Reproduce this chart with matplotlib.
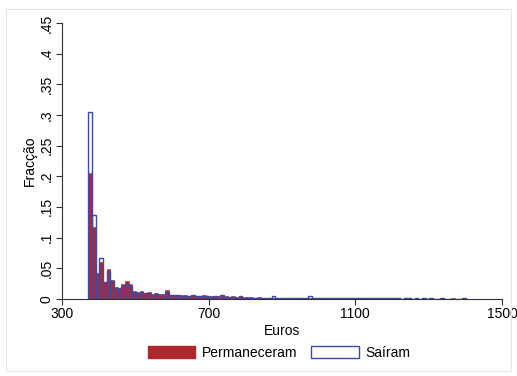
import matplotlib
matplotlib.use("Agg")
import matplotlib.pyplot as plt
from matplotlib.patches import Rectangle

plt.rcParams['font.family'] = ['Liberation Sans', 'DejaVu Sans']

bin_start = 372
bin_width = 10

permaneceram = [
    0.205, 0.118, 0.043, 0.061, 0.028, 0.049, 0.031, 0.019, 0.018, 0.025,
    0.029, 0.024, 0.013, 0.012, 0.013, 0.010, 0.011, 0.008, 0.009, 0.008,
    0.008, 0.015, 0.007, 0.007, 0.006, 0.007, 0.006, 0.005, 0.006, 0.005,
    0.005, 0.006, 0.004, 0.004, 0.005, 0.004, 0.007, 0.004, 0.003, 0.004,
    0.003, 0.005, 0.003, 0.003, 0.003, 0.002, 0.003, 0.002, 0.002, 0.002,
    0.002, 0.002, 0.001, 0.002, 0.002, 0.001, 0.002, 0.001, 0.001, 0.001,
    0.002, 0.001, 0.001, 0.001, 0.001, 0.001, 0.001, 0.001, 0.001, 0.001,
    0.001, 0.001, 0.001, 0.001, 0.001, 0.002, 0.001, 0.001, 0.001, 0.001,
    0.001, 0.001, 0.001, 0.001, 0.001, 0.0, 0.001, 0.001, 0.0, 0.001,
    0.0, 0.001, 0.0, 0.001, 0.0, 0.0, 0.001, 0.0, 0.0, 0.001,
    0.0, 0.0, 0.001,
]
sairam = [
    0.305, 0.137, 0.040, 0.067, 0.027, 0.045, 0.029, 0.018, 0.016, 0.021,
    0.025, 0.021, 0.011, 0.010, 0.011, 0.009, 0.010, 0.007, 0.008, 0.007,
    0.007, 0.012, 0.006, 0.006, 0.006, 0.005, 0.005, 0.005, 0.006, 0.004,
    0.004, 0.005, 0.004, 0.003, 0.004, 0.003, 0.006, 0.003, 0.003, 0.003,
    0.002, 0.004, 0.002, 0.002, 0.002, 0.002, 0.002, 0.002, 0.002, 0.002,
    0.004, 0.001, 0.001, 0.001, 0.001, 0.001, 0.001, 0.001, 0.001, 0.001,
    0.004, 0.001, 0.001, 0.001, 0.001, 0.001, 0.001, 0.001, 0.001, 0.001,
    0.001, 0.001, 0.001, 0.001, 0.001, 0.001, 0.001, 0.001, 0.001, 0.001,
    0.002, 0.001, 0.001, 0.001, 0.001, 0.0, 0.001, 0.001, 0.0, 0.001,
    0.0, 0.001, 0.0, 0.001, 0.0, 0.0, 0.001, 0.0, 0.0, 0.0,
    0.0, 0.0, 0.001,
]

x_ticks = [300, 700, 1100, 1500]
y_ticks = [0, 0.05, 0.1, 0.15, 0.2, 0.25, 0.3, 0.35, 0.4, 0.45]
y_labels = ["0", ".05", ".1", ".15", ".2", ".25", ".3", ".35", ".4", ".45"]

red = "#B0282E"
blue = "#3A4BA8"

fig = plt.figure(figsize=(5.17, 3.76), dpi=100)
ax = fig.add_axes([0.12, 0.205, 0.851, 0.734])

lefts = [bin_start + i * bin_width for i in range(len(permaneceram))]
ax.bar(lefts, permaneceram, width=bin_width, align='edge', color=red,
       edgecolor=red, linewidth=0.4, label="Permaneceram")
ax.bar(lefts[:len(sairam)], sairam, width=bin_width, align='edge',
       facecolor='none', edgecolor=blue, linewidth=1.0, label="Saíram")

ax.set_xlim(300, 1500)
ax.set_ylim(0, 0.45)
ax.set_xticks(x_ticks)
ax.set_xticklabels([str(t) for t in x_ticks], fontsize=10)
ax.set_yticks(y_ticks)
ax.set_yticklabels(y_labels, fontsize=10, rotation=90, va='center')
ax.set_xlabel("Euros", fontsize=10, labelpad=2)
ax.set_ylabel("Fracção", fontsize=10, labelpad=2)
for s in ['top', 'right']:
    ax.spines[s].set_visible(False)
for s in ['left', 'bottom']:
    ax.spines[s].set_color('#333333')
    ax.spines[s].set_linewidth(0.8)
ax.tick_params(axis='both', length=4, width=0.8, color='#333333', pad=2)

leg = fig.legend(handles=[Rectangle((0, 0), 1, 1, facecolor=red, edgecolor=red),
                          Rectangle((0, 0), 1, 1, facecolor='white', edgecolor=blue, linewidth=1.0)],
                 labels=["Permaneceram", "Saíram"], loc='center', bbox_to_anchor=(0.54, 0.062),
                 ncol=2, frameon=False, fontsize=10, handlelength=3.4, handleheight=1.0,
                 columnspacing=1.0, handletextpad=0.5)

fig.patches.append(Rectangle((0.012, 0.012), 0.976, 0.965, transform=fig.transFigure,
                             fill=False, edgecolor='#e6e6e6', linewidth=0.8))

fig.savefig("out.png", dpi=100)
